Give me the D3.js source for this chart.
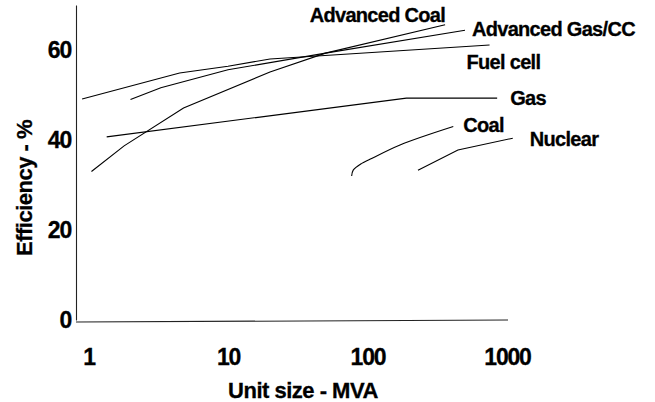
<!DOCTYPE html>
<html>
<head>
<meta charset="utf-8">
<script src="https://cdn.jsdelivr.net/npm/d3@7"></script>
<style>
    body { margin: 0; background: #fff; }
    text { font-family: "Liberation Sans", Arial, sans-serif; font-weight: bold; fill: #000; stroke: #000; stroke-width: 0.3px; }
</style>
</head>
<body>
<div id="chart"></div>
<script>
// values (unit size in MVA, efficiency in %)
const seriesNames = ["Advanced Coal", "Advanced Gas/CC", "Fuel cell", "Gas", "Coal", "Nuclear"];

const advCoalSize = [1.05, 1.8, 4.8, 20, 50, 360];
const advCoalEff  = [33, 38.7, 47.1, 55.1, 59.3, 65.6];

const advGasSize = [2, 3.3, 10, 50, 500];
const advGasEff  = [49, 51.6, 55.6, 59.3, 64.4];

const fuelCellSize = [0.9, 4.5, 10, 20, 750];
const fuelCellEff  = [49.1, 54.9, 56.4, 58, 61.1];

const gasSize = [1.35, 190, 850];
const gasEff  = [40.7, 49.3, 49.3];

const coalSize = [77, 79, 91, 104, 171, 412];
const coalEff  = [32, 33.3, 34.8, 35.7, 38.9, 43];

const nuclearSize = [230, 445, 1100];
const nuclearEff  = [33.3, 37.8, 40.4];

const xTicks = [1, 10, 100, 1000];
const yTicks = [0, 20, 40, 60];

// label offsets from the last point of each line (px)
const labelOffsets = [
    { dx: 0, dy: -3, anchor: "end" },
    { dx: 7, dy: 6, anchor: "start" },
    { dx: -23, dy: 24, anchor: "start" },
    { dx: 13, dy: 7, anchor: "start" },
    { dx: 10, dy: 5, anchor: "start" },
    { dx: 17, dy: 8, anchor: "start" }
];

const sizes = [advCoalSize, advGasSize, fuelCellSize, gasSize, coalSize, nuclearSize];
const effs = [advCoalEff, advGasEff, fuelCellEff, gasEff, coalEff, nuclearEff];

var series = seriesNames.map(function (name, i) {
    return {
        name: name,
        points: sizes[i].map(function (s, j) { return { size: s, eff: effs[i][j] }; })
    };
});

const width = 655, height = 402;
const axisX = 76, baseY = 321;

let svg = d3.select("#chart").append("svg")
    .attr("width", width)
    .attr("height", height);

const x = d3.scaleLog()
    .domain([1, 1000])
    .range([88.5, 507]);

const y = d3.scaleLinear()
    .domain([0, 70])
    .range([320, 5]);

// y axis
let yG = svg.append("g")
    .attr("transform", "translate(" + axisX + ",0)")
    .call(d3.axisLeft(y).tickValues(yTicks).tickSize(0).tickSizeOuter(0).tickPadding(5));
yG.select(".domain").attr("stroke", "#222").attr("stroke-width", 1.1);
yG.selectAll("text")
    .style("font-size", "23px")
    .style("letter-spacing", "-1.2px")
    .style("font-family", "'Liberation Sans', Arial, sans-serif")
    .style("font-weight", "bold");

// x axis: baseline drawn from the y axis to the end of the range
svg.append("line")
    .attr("x1", axisX)
    .attr("x2", x(1000) + 1)
    .attr("y1", baseY + 1)
    .attr("y2", baseY - 1)
    .attr("stroke", "#222")
    .attr("stroke-width", 1.1);

let xG = svg.append("g")
    .attr("transform", "translate(0," + baseY + ")")
    .call(d3.axisBottom(x).tickValues(xTicks).tickFormat(d3.format("d")).tickSize(0).tickPadding(28));
xG.select(".domain").remove();
xG.selectAll("text")
    .style("font-size", "23px")
    .style("letter-spacing", "-1.2px")
    .style("font-family", "'Liberation Sans', Arial, sans-serif")
    .style("font-weight", "bold");

// lines
var line = d3.line()
    .x(function (d) { return x(d.size); })
    .y(function (d) { return y(d.eff); });

svg.selectAll(".series")
    .data(series)
    .enter()
    .append("path")
    .attr("class", "series")
    .attr("fill", "none")
    .attr("stroke", "#000")
    .attr("stroke-width", 1.1)
    .attr("d", function (d) {
        line.curve(d.name === "Coal" ? d3.curveCatmullRom : d3.curveLinear);
        return line(d.points);
    });

// series labels
svg.selectAll(".lab")
    .data(series)
    .enter()
    .append("text")
    .attr("class", "lab")
    .attr("x", function (d, i) { return x(d.points[d.points.length - 1].size) + labelOffsets[i].dx; })
    .attr("y", function (d, i) { return y(d.points[d.points.length - 1].eff) + labelOffsets[i].dy; })
    .attr("text-anchor", function (d, i) { return labelOffsets[i].anchor; })
    .style("font-size", "20px")
    .style("letter-spacing", "-0.7px")
    .text(function (d) { return d.name; });

// axis titles
svg.append("text")
    .attr("x", 303)
    .attr("y", 398)
    .attr("text-anchor", "middle")
    .style("font-size", "22px")
    .style("letter-spacing", "-0.5px")
    .text("Unit size - MVA");

svg.append("text")
    .attr("transform", "translate(32,188)rotate(-90)")
    .attr("text-anchor", "middle")
    .style("font-size", "22px")
    .style("letter-spacing", "-0.5px")
    .text("Efficiency - %");
</script>
</body>
</html>
